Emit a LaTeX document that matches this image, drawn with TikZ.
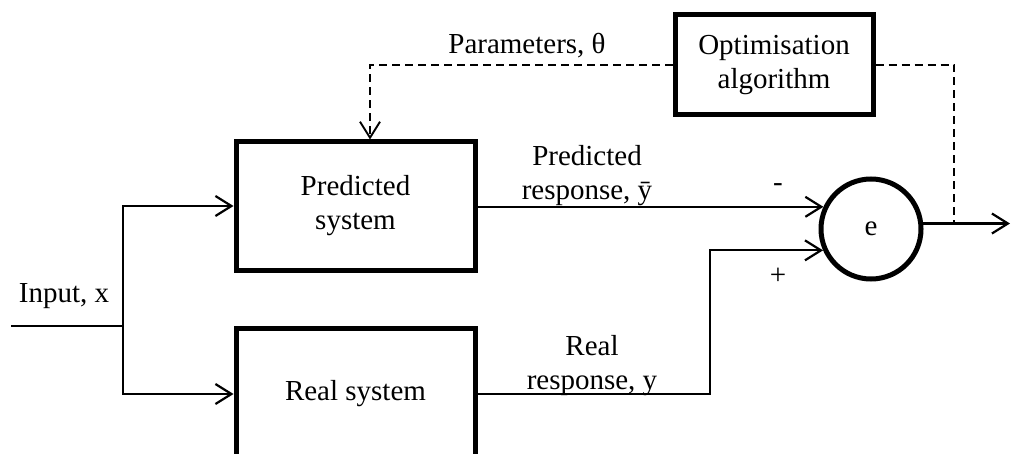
\documentclass[tikz,border=0pt]{standalone}
\usepackage{fontspec}
\setmainfont{Liberation Serif}
\usetikzlibrary{arrows.meta}
\begin{document}
\begin{tikzpicture}[x=1pt,y=-1pt,
  font=\fontsize{29}{34}\selectfont,
  blockbox/.style={draw,line width=5pt,minimum width=239pt,align=center},
  conn/.style={line width=2.2pt},
  dconn/.style={line width=1.9pt,dash pattern=on 8pt off 5pt},
  tip/.style={-{Straight Barb[length=16pt,width=20pt]}},
  lbl/.style={align=center,inner sep=0pt}]
\useasboundingbox (0,0) rectangle (1011,454);
\clip (0,0) rectangle (1011,454);
\node[blockbox,minimum height=128pt] (pbox) at (355.5,206) {Predicted\\system};
\node[blockbox,minimum height=132pt] (rbox) at (355.5,394) {Real system};
\node[blockbox,minimum width=198pt,minimum height=100pt] (obox) at (774,65) {Optimisation\\algorithm};
\node[draw,circle,line width=5pt,minimum size=100pt,inner sep=0pt] (circ) at (871,229) {e};
\coordinate (in) at (11,326);
\coordinate (split) at (123,326);
\coordinate (bx) at (710,0);
\coordinate (px) at (370,0);
\coordinate (tx) at (954,0);
\coordinate (out) at (1010,0);
\draw[conn] (in) -- (split);
\draw[conn,tip] (split) |- (pbox.west);
\draw[conn,tip] (split) |- (rbox.west);
\draw[conn,tip] (pbox.east |- circ.155) -- (circ.155);
\draw[conn,tip] (rbox.east) -| (bx |- circ.204) -- (circ.204);
\draw[conn,tip] (circ.6) -- (out |- circ.6);
\draw[dconn] (obox.east) -| (tx |- circ.6);
\draw[dconn,tip] (obox.west) -| (px |- pbox.north);
\node[lbl] (linput) at (64,296) {Input, x};
\node[lbl] (lparam) at (527,46) {Parameters, θ};
\node[lbl] (lpred) at (587,176) {Predicted\\response, ȳ};
\node[lbl] (lreal) at (592,366) {Real\\response, y};
\node[lbl] (lminus) at (778,188) {-};
\node[lbl] (lplus) at (778,276) {+};
\end{tikzpicture}
\end{document}
